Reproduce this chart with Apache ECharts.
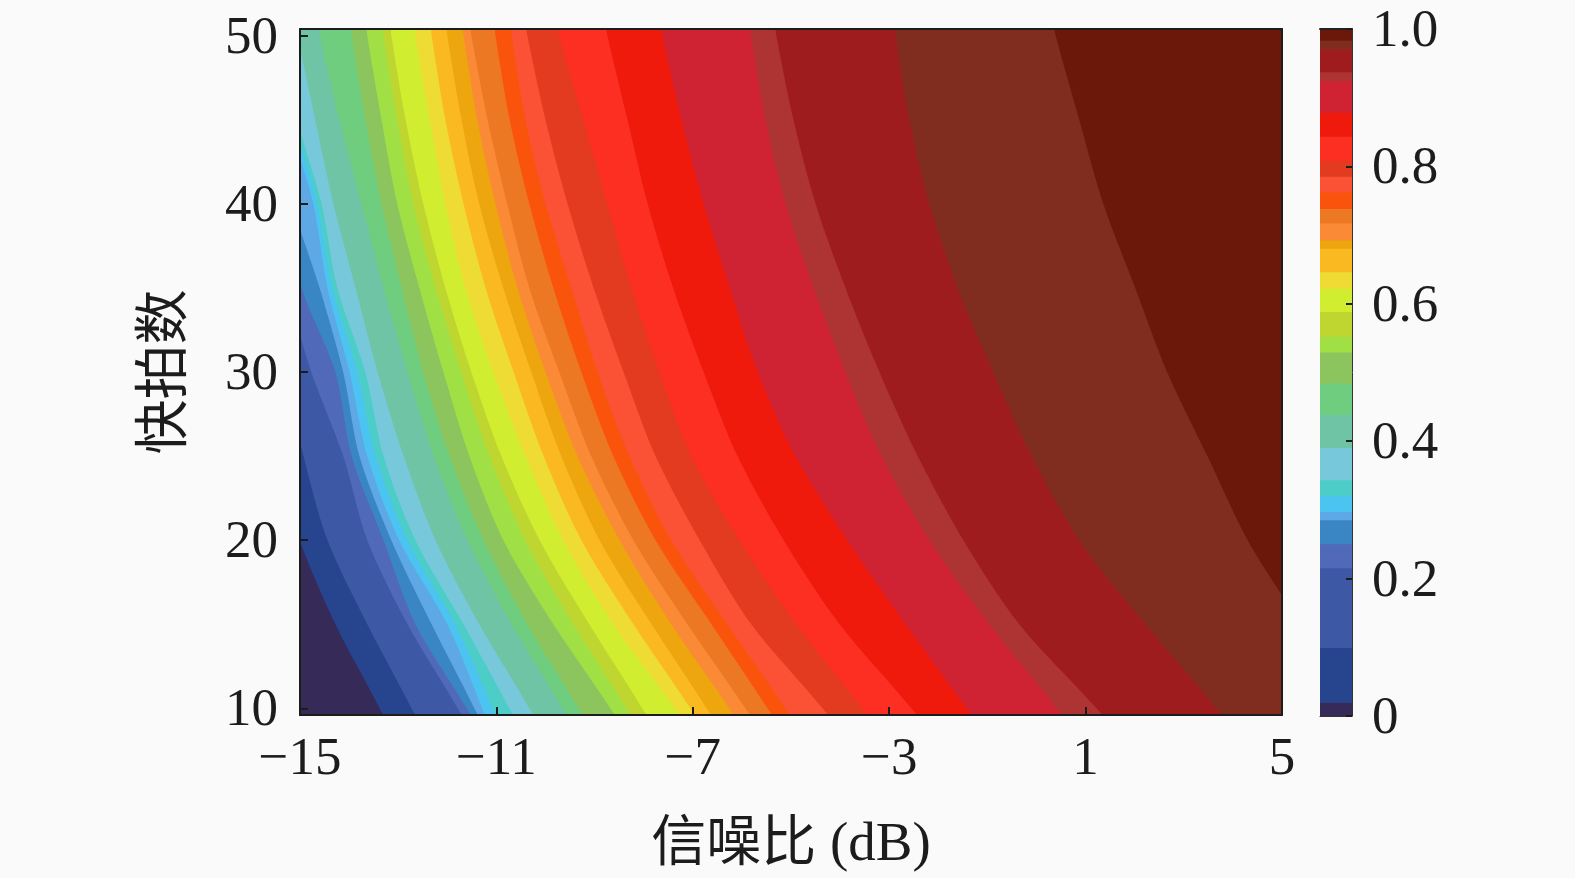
<!DOCTYPE html>
<html><head><meta charset="utf-8">
<style>html,body{margin:0;padding:0;background:#fafafa}#c{width:1575px;height:878px}</style>
<script src="https://cdn.jsdelivr.net/npm/echarts@6/dist/echarts.min.js"></script>
</head><body><div id="c"></div>
<script>
const xTicks = [-15, -11, -7, -3, 1, 5];
const yTicks = [10, 20, 30, 40, 50];
const cbTicks = [0, 0.2, 0.4, 0.6, 0.8, 1.0];
const xName = '信噪比 (dB)';
const yName = '快拍数';

// snapshot rows at which the band edges were read
const snapshots = [50, 45, 40, 35, 30, 25, 20, 15, 10];

// colours of the detection-probability bands, low to high
const bandColors = ['#352a58','#27448f','#3d58a5','#5069b8','#3a85c3','#5fa8e6','#4bc4f2','#4ccdc8','#78c8dc','#6fc4a5',
  '#6fcd7f','#8cc45e','#a0e045','#bfd530','#d0ee2f','#eedc35','#fbb921','#eda60e','#fa8a35','#ed7823',
  '#fa540c','#fb5236','#e33b20','#fd2f22','#ef1a0b','#cf2232','#ae3333','#9f1c1e','#802d20','#6b1709'];

// colourbar: upper value of each band, low to high
const bandTops = [0.019,0.099,0.215,0.250,0.285,0.297,0.320,0.343,0.390,0.438,
  0.484,0.529,0.552,0.588,0.622,0.646,0.680,0.692,0.717,0.738,
  0.762,0.785,0.808,0.843,0.878,0.924,0.937,0.970,0.983,1.0];

// SNR (dB) of the edge above each band, one value per snapshot row
const bandEdges = [
  [-17.46,-17.05,-16.64,-16.23,-15.93,-15.52,-15.01,-14.28,-13.38],
  [-16.64,-16.32,-15.99,-15.66,-15.32,-14.93,-14.44,-13.63,-12.73],
  [-16.23,-15.91,-15.58,-15.26,-14.77,-14.12,-13.63,-12.81,-11.79],
  [-15.93,-15.62,-15.32,-14.97,-14.28,-13.95,-13.30,-12.65,-11.61],
  [-15.73,-15.46,-15.15,-14.60,-14.12,-13.79,-13.14,-12.32,-11.45],
  [-15.52,-15.22,-14.73,-14.44,-13.99,-13.63,-12.98,-12.00,-11.29],
  [-15.42,-15.11,-14.65,-14.34,-13.83,-13.46,-12.81,-11.84,-11.08],
  [-15.32,-15.05,-14.56,-14.24,-13.67,-13.30,-12.65,-11.67,-10.74],
  [-15.05,-14.69,-14.32,-13.87,-13.42,-12.89,-12.24,-11.35,-10.33],
  [-14.60,-14.20,-13.75,-13.30,-12.81,-12.28,-11.59,-10.69,-9.66],
  [-13.95,-13.67,-13.34,-12.93,-12.49,-11.96,-11.26,-10.37,-9.33],
  [-13.63,-13.34,-13.02,-12.57,-12.08,-11.55,-10.86,-9.84,-8.68],
  [-13.30,-13.02,-12.69,-12.24,-11.71,-11.14,-10.41,-9.43,-8.35],
  [-13.14,-12.85,-12.49,-12.04,-11.51,-10.90,-10.12,-9.11,-8.03],
  [-12.65,-12.36,-12.04,-11.63,-11.06,-10.41,-9.64,-8.62,-7.37],
  [-12.32,-12.04,-11.67,-11.22,-10.65,-10.04,-9.27,-8.21,-7.05],
  [-12.00,-11.71,-11.35,-10.86,-10.29,-9.68,-8.90,-7.84,-6.72],
  [-11.67,-11.39,-11.02,-10.57,-10.00,-9.35,-8.49,-7.44,-6.26],
  [-11.51,-11.18,-10.78,-10.33,-9.72,-9.07,-8.21,-7.11,-5.93],
  [-11.02,-10.73,-10.33,-9.84,-9.27,-8.62,-7.76,-6.62,-5.48],
  [-10.69,-10.41,-10.00,-9.47,-8.94,-8.29,-7.44,-6.30,-5.11],
  [-10.37,-10.00,-9.55,-9.02,-8.41,-7.76,-6.86,-5.81,-4.36],
  [-9.72,-9.23,-8.74,-8.25,-7.68,-7.03,-6.05,-4.89,-3.55],
  [-8.74,-8.33,-7.92,-7.40,-6.78,-6.09,-5.15,-4.01,-2.55],
  [-7.62,-7.23,-6.78,-6.25,-5.68,-4.91,-3.85,-2.67,-1.43],
  [-5.81,-5.52,-5.11,-4.54,-3.89,-3.16,-2.18,-0.96,0.41],
  [-5.30,-4.95,-4.50,-3.89,-3.20,-2.42,-1.49,-0.35,1.22],
  [-2.87,-2.59,-2.18,-1.61,-0.88,-0.10,0.87,2.22,3.66],
  [0.39,0.87,1.36,2.01,2.66,3.48,4.30,5.36,6.23]
];

const font = '"Liberation Serif","Noto Sans CJK SC",serif';
const ink = '#1c1c1c';
const xMin = -15, xMax = 5, yMin = 9.6, yMax = 50.4;

function fieldBand(params, api) {
  const i = api.value(0);
  const edge = bandEdges[i];
  const n = edge.length;
  // the polygon runs past the frame along the edge's own direction; the grid clips it
  const topX = edge[0] + (edge[0] - edge[1]) * 0.6;
  const botX = edge[n - 1] + (edge[n - 1] - edge[n - 2]) * 0.6;
  const pts = [api.coord([xMin - 8, yMin - 3]), api.coord([xMin - 8, yMax + 3]), api.coord([topX, yMax + 3])];
  snapshots.forEach((s, r) => pts.push(api.coord([edge[r], s])));
  pts.push(api.coord([botX, yMin - 3]));
  return { type: 'polygon', shape: { points: pts, smooth: 0.3 }, style: { fill: bandColors[i] } };
}

function barBand(params, api) {
  const i = api.value(0);
  const a = api.coord([0, bandTops[i]]), b = api.coord([1, 0]);
  return { type: 'rect', shape: { x: a[0], y: a[1], width: b[0] - a[0], height: b[1] - a[1] }, style: { fill: bandColors[i] } };
}

const labelStyle = { color: ink, fontFamily: font, fontSize: 53 };
const nameStyle = { color: ink, fontFamily: font, fontSize: 55 };
const plain = { show: false };
const line = { show: true, onZero: false, lineStyle: { color: ink, width: 2 } };
const lowered = { a: { color: ink, fontFamily: font, fontSize: 53, padding: [6, 0, 0, 0] } };

const option = {
  backgroundColor: '#fafafa',
  animation: false,
  grid: [
    { left: 300, width: 982, top: 29, height: 687, show: true, backgroundColor: bandColors[29], borderWidth: 0 },
    { left: 1320, width: 32, top: 29, height: 687, show: false }
  ],
  xAxis: [
    { gridIndex: 0, type: 'value', min: xMin, max: xMax, position: 'bottom', z: 10,
      axisLine: line, splitLine: plain,
      axisTick: { show: true, inside: true, length: 8, customValues: xTicks, lineStyle: { color: ink, width: 2 } },
      axisLabel: Object.assign({ margin: 19, customValues: xTicks, showMinLabel: true, showMaxLabel: true, lineHeight: 53,
        formatter: v => String(v).replace('-', '\u2212') }, labelStyle),
      name: xName, nameLocation: 'center', nameGap: 103, nameTextStyle: nameStyle },
    { gridIndex: 0, type: 'value', min: xMin, max: xMax, position: 'top', z: 10,
      axisLine: line, axisTick: plain, axisLabel: plain, splitLine: plain },
    { gridIndex: 1, type: 'value', min: 0, max: 1, position: 'bottom', z: 10,
      axisLine: { show: true, onZero: false, lineStyle: { color: '#333', width: 1 } }, axisTick: plain, axisLabel: plain, splitLine: plain },
    { gridIndex: 1, type: 'value', min: 0, max: 1, position: 'top', z: 10,
      axisLine: { show: true, onZero: false, lineStyle: { color: '#222', width: 2 } }, axisTick: plain, axisLabel: plain, splitLine: plain }
  ],
  yAxis: [
    { gridIndex: 0, type: 'value', min: yMin, max: yMax, position: 'left', z: 10,
      axisLine: line, splitLine: plain,
      axisTick: { show: true, inside: true, length: 8, customValues: yTicks, lineStyle: { color: ink, width: 2 } },
      axisLabel: { margin: 22, customValues: yTicks, formatter: v => '{a|' + v + '}', rich: lowered },
      name: yName, nameLocation: 'center', nameGap: 106, nameRotate: 90, nameTextStyle: nameStyle },
    { gridIndex: 0, type: 'value', min: yMin, max: yMax, position: 'right', z: 10,
      axisLine: line, axisTick: plain, axisLabel: plain, splitLine: plain },
    { gridIndex: 1, type: 'value', min: 0, max: 1, position: 'right', z: 10,
      axisLine: { show: true, onZero: false, lineStyle: { color: '#333', width: 1 } }, splitLine: plain,
      axisTick: { show: true, inside: true, length: 6, customValues: cbTicks, lineStyle: { color: ink, width: 2 } },
      axisLabel: { margin: 20, customValues: cbTicks, showMinLabel: true, showMaxLabel: true, rich: lowered,
        formatter: v => '{a|' + (v === 0 ? '0' : v.toFixed(1)) + '}' } }
  ],
  series: [
    { type: 'custom', name: 'field', coordinateSystem: 'cartesian2d', xAxisIndex: 0, yAxisIndex: 0, silent: true, clip: true,
      renderItem: fieldBand, data: bandEdges.map((_, i) => [bandEdges.length - 1 - i]) },
    { type: 'custom', name: 'colorbar', coordinateSystem: 'cartesian2d', xAxisIndex: 2, yAxisIndex: 2, silent: true,
      renderItem: barBand, data: bandTops.map((_, i) => [bandTops.length - 1 - i]) }
  ]
};
echarts.init(document.getElementById('c'), null, { renderer: 'canvas' }).setOption(option);
</script></body></html>
